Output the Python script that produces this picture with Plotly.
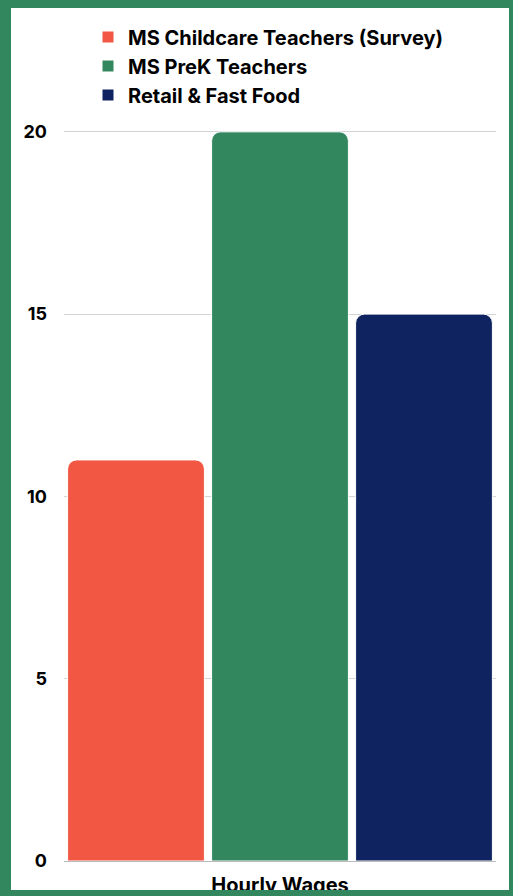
import plotly.graph_objects as go

categories = ["Hourly Wages"]
series_names = ["MS Childcare Teachers (Survey)", "MS PreK Teachers", "Retail & Fast Food"]
series_values = [[11], [20], [15]]
series_colors = ["#F25744", "#33875F", "#0E2360"]
y_ticks = [0, 5, 10, 15, 20]

W, H = 513, 896
L, R, T, B = 64, 17, 130, 35
PW = W - L - R
PH = H - T - B
FONT = "Inter"

def px(x):
    return (x - L) / PW

def py(y):
    return (H - B - y) / PH

fig = go.Figure()
for name, vals, col in zip(series_names, series_values, series_colors):
    fig.add_trace(go.Bar(
        x=categories, y=vals, name=name, showlegend=False,
        marker=dict(color=col, line=dict(color="white", width=1)),
    ))
# legend entries with square swatches
for name, col in zip(series_names, series_colors):
    fig.add_trace(go.Scatter(
        x=[None], y=[None], name=name, mode="markers",
        marker=dict(symbol="square", size=11, color=col),
    ))

border = "#33875F"
shapes = []
for x0, y0, x1, y1 in [(0, 0, 11, H), (0, 0, W, 8), (509, 0, W, H), (0, 890, W, H)]:
    shapes.append(dict(type="rect", xref="paper", yref="paper",
                       x0=px(x0), x1=px(x1), y0=py(y1), y1=py(y0),
                       fillcolor=border, line=dict(width=0), layer="above"))

fig.update_layout(
    width=W, height=H,
    margin=dict(l=L, r=R, t=T, b=B, autoexpand=False),
    paper_bgcolor="white", plot_bgcolor="white",
    barmode="group", bargap=0, bargroupgap=0.05,
    barcornerradius=9,
    font=dict(family=FONT, color="black"),
    showlegend=True,
    legend=dict(
        x=px(88), xanchor="left", y=py(17.5), yanchor="top",
        font=dict(family=FONT, size=20, weight="bold", color="black"),
        itemwidth=30, tracegroupgap=0, bgcolor="rgba(0,0,0,0)",
    ),
    xaxis=dict(
        showgrid=False, showline=False, automargin=False,
        tickfont=dict(family=FONT, size=20, weight="bold", color="black"),
        ticks="", ticklabelstandoff=10,
    ),
    yaxis=dict(
        range=[0, 20.05], tickvals=y_ticks, ticktext=[str(v) for v in y_ticks],
        showgrid=True, gridcolor="#D3D3D3", gridwidth=1, automargin=False,
        zeroline=True, zerolinecolor="#BBBBBB", zerolinewidth=1,
        tickfont=dict(family=FONT, size=18, weight="bold", color="black"),
        ticklabelstandoff=16, showline=False,
    ),
    shapes=shapes,
)

fig.write_html("out.html")
